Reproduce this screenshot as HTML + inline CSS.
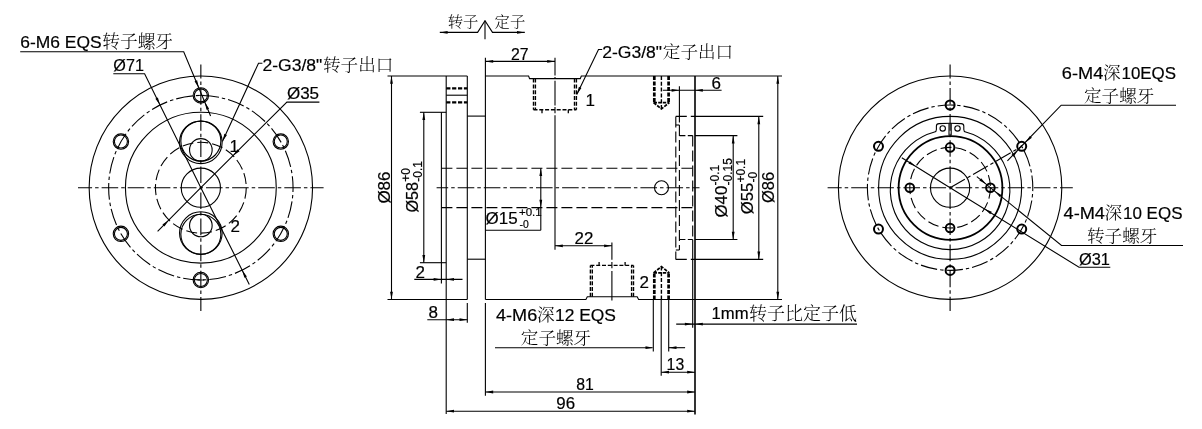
<!DOCTYPE html>
<html lang="zh"><head><meta charset="utf-8"><title>Rotary union drawing</title>
<style>
html,body{margin:0;padding:0;background:#fff;}
body{width:1202px;height:429px;overflow:hidden;}
svg{display:block;will-change:transform;}
svg *{fill:none;stroke:#000;stroke-width:1.1;}
.ar{fill:#000;stroke:none;}
.ch{stroke-dasharray:16.6 3 3.5 3;stroke-dashoffset:2.5;}
.chs{stroke-dasharray:16.6 3 3.5 3;stroke-dashoffset:5;}
.chc{stroke-dasharray:17 3 3.5 3;}
.ch2{stroke-dasharray:22 3.5 4 3.5;}
.hd{stroke-dasharray:11 4;}
.hd3{stroke-dasharray:6 2.4;}
.hk{stroke-width:1.4;stroke-dasharray:4 1.8;}
.hw{stroke-width:2.7;stroke-dasharray:4 1.5;}
.hc{stroke-width:1.7;stroke-dasharray:3.4 1.2;}
.hf{stroke-width:2.1;stroke-dasharray:4.2 1.7;}
.hk2{stroke-width:1.3;}
.tk{stroke-width:1.8;}
.tk3{stroke-width:1.6;}
.tk2{stroke-width:2.0;}
.th{stroke-width:0.9;}
.tm{stroke-width:1.1;}
text{fill:#000 !important;stroke:none;}
.t{font-family:"Liberation Sans",sans-serif;stroke:#000;stroke-width:0.2;}
.c{font-family:"Liberation Serif","Noto Serif CJK SC",serif;font-weight:300;stroke:none;}
</style></head><body>
<svg width="1202" height="429" viewBox="0 0 1202 429">
<line x1="78" y1="187.7" x2="323.6" y2="187.7" class='ch'/>
<line x1="200.85" y1="64.5" x2="200.85" y2="310.9" class='ch'/>
<circle cx="200.85" cy="187.7" r="111.7"/>
<circle cx="200.85" cy="187.7" r="92.2" style="stroke-dasharray:16.9 3 3.43 3;stroke-dashoffset:12.5"/>
<circle cx="200.85" cy="187.7" r="75.4"/>
<circle cx="200.85" cy="187.7" r="45.4" class='hd'/>
<circle cx="200.85" cy="187.7" r="19.6"/>
<circle cx="200.85" cy="142.3" r="21.3"/>
<circle cx="200.85" cy="141.1" r="20"/>
<circle cx="200.85" cy="149.9" r="11.3"/>
<circle cx="200.85" cy="233.1" r="21.3"/>
<circle cx="200.85" cy="234.3" r="20"/>
<circle cx="200.85" cy="225.5" r="11.3"/>
<circle cx="200.85" cy="95.4" r="7.7" class='tm'/>
<circle cx="200.85" cy="95.4" r="6.5" class='tm'/>
<line x1="197.45" y1="95.4" x2="204.25" y2="95.4" class='th'/>
<circle cx="120.92" cy="141.55" r="7.7" class='tm'/>
<circle cx="120.92" cy="141.55" r="6.5" class='tm'/>
<circle cx="120.92" cy="233.85" r="7.7" class='tm'/>
<circle cx="120.92" cy="233.85" r="6.5" class='tm'/>
<circle cx="200.85" cy="280" r="7.7" class='tm'/>
<circle cx="200.85" cy="280" r="6.5" class='tm'/>
<line x1="197.45" y1="280" x2="204.25" y2="280" class='th'/>
<circle cx="280.78" cy="233.85" r="7.7" class='tm'/>
<circle cx="280.78" cy="233.85" r="6.5" class='tm'/>
<circle cx="280.78" cy="141.55" r="7.7" class='tm'/>
<circle cx="280.78" cy="141.55" r="6.5" class='tm'/>
<text x="20.2" y="47.5" font-size="17" class="t" textLength="81.4" lengthAdjust="spacingAndGlyphs">6-M6 EQS</text>
<text x="102.3" y="47.8" font-size="17.7" class="c">转子螺牙</text>
<polyline points="20.2,51.7 183.7,51.7 210.6,116"/>
<polygon class="ar" points="198.84,87.89 194.54,81.24 197.12,80.16"/>
<polygon class="ar" points="204.79,102.1 209.09,108.76 206.5,109.84"/>
<text x="113.3" y="71.1" font-size="17" class="t" textLength="30.6" lengthAdjust="spacingAndGlyphs">Ø71</text>
<polyline points="113.3,73.7 144.6,73.7 200.85,187.7 249.3,284.4"/>
<polygon class="ar" points="160.05,105.02 155.35,98.64 157.86,97.4"/>
<polygon class="ar" points="242.15,270.13 246.9,276.48 244.39,277.73"/>
<text x="286.9" y="99.4" font-size="17" class="t" textLength="32.2" lengthAdjust="spacingAndGlyphs">Ø35</text>
<polyline points="319.4,102.1 286.9,102.1 200.85,187.7 157.6,231.4"/>
<polygon class="ar" points="233.04,155.68 237.58,149.19 239.55,151.17"/>
<polygon class="ar" points="168.91,219.97 164.42,226.5 162.43,224.53"/>
<text x="262.4" y="71" font-size="17" class="t" textLength="59.9" lengthAdjust="spacingAndGlyphs">2-G3/8"</text>
<text x="323" y="71.3" font-size="17.6" class="c">转子出口</text>
<polyline points="262.4,63.2 258.5,63.2 222.4,141.5"/>
<polygon class="ar" points="222.4,141.5 224.39,133.83 226.94,135"/>
<text x="229.6" y="152.3" font-size="17" class="t">1</text>
<text x="230.6" y="231.6" font-size="17" class="t">2</text>
<line x1="387.5" y1="76" x2="467.3" y2="76"/>
<line x1="387.5" y1="299.5" x2="467.3" y2="299.5"/>
<line x1="391.5" y1="76" x2="391.5" y2="299.5"/>
<polygon class="ar" points="391.5,76 392.9,83.8 390.1,83.8"/>
<polygon class="ar" points="391.5,299.5 390.1,291.7 392.9,291.7"/>
<text x="389.8" y="203.6" font-size="17" class="t" transform="rotate(-90 389.8 203.6)" textLength="32.1" lengthAdjust="spacingAndGlyphs">Ø86</text>
<line x1="419.9" y1="112.3" x2="446.2" y2="112.3"/>
<line x1="419.9" y1="262.7" x2="446.2" y2="262.7"/>
<line x1="423.8" y1="112.3" x2="423.8" y2="262.7"/>
<polygon class="ar" points="423.8,112.3 425.2,120.1 422.4,120.1"/>
<polygon class="ar" points="423.8,262.7 422.4,254.9 425.2,254.9"/>
<text x="417.8" y="212.5" font-size="17" class="t" transform="rotate(-90 417.8 212.5)" textLength="30.6" lengthAdjust="spacingAndGlyphs">Ø58</text>
<text x="410.2" y="181.7" font-size="12" class="t" transform="rotate(-90 410.2 181.7)">+0</text>
<text x="422" y="181.7" font-size="12" class="t" transform="rotate(-90 422 181.7)">-0.1</text>
<line x1="441.4" y1="112.3" x2="441.4" y2="283.6"/>
<line x1="446.2" y1="76" x2="446.2" y2="414"/>
<line x1="467.3" y1="76" x2="467.3" y2="299.5"/>
<line x1="467.3" y1="303" x2="467.3" y2="322.8"/>
<line x1="446.2" y1="88.4" x2="467.3" y2="88.4" class='hf'/>
<line x1="446.2" y1="95.2" x2="467.3" y2="95.2"/>
<line x1="446.2" y1="102.4" x2="467.3" y2="102.4" class='hf'/>
<line x1="467.3" y1="116.1" x2="485.4" y2="116.1"/>
<line x1="467.3" y1="259.2" x2="485.4" y2="259.2"/>
<line x1="485.4" y1="57.8" x2="485.4" y2="299.5"/>
<line x1="485.4" y1="303" x2="485.4" y2="395.7"/>
<polyline points="485.4,76 528.6,76 529.6,78.6 580.3,78.6 581.3,76 695,76"/>
<line x1="695" y1="76" x2="742" y2="76"/>
<polyline points="485.4,299.5 585.9,299.5 587.3,296.8 637.2,296.8 638.6,299.5 695,299.5"/>
<line x1="695" y1="299.5" x2="782" y2="299.5"/>
<line x1="742" y1="76" x2="782" y2="76"/>
<line x1="695" y1="76" x2="695" y2="414.5" class='tk3'/>
<line x1="692.7" y1="239.5" x2="692.7" y2="327.7"/>
<line x1="441.4" y1="168.2" x2="692.7" y2="168.2" class='hd'/>
<line x1="441.4" y1="207.6" x2="692.7" y2="207.6" class='hd'/>
<line x1="436.6" y1="187.75" x2="699.5" y2="187.75" class='chs'/>
<line x1="540.8" y1="168.2" x2="540.8" y2="230.2"/>
<line x1="485.4" y1="230.2" x2="540.8" y2="230.2"/>
<polygon class="ar" points="540.8,168.2 542.2,176 539.4,176"/>
<polygon class="ar" points="540.8,207.6 539.4,199.8 542.2,199.8"/>
<text x="485.6" y="224.4" font-size="17" class="t" textLength="32.1" lengthAdjust="spacingAndGlyphs">Ø15</text>
<text x="519" y="216" font-size="11.5" class="t">+0.1</text>
<text x="519.6" y="228" font-size="10.4" class="t">-0</text>
<line x1="555" y1="57.8" x2="555" y2="75.5"/>
<line x1="555" y1="76.9" x2="555" y2="79.1"/>
<line x1="555" y1="80.7" x2="555" y2="105.6"/>
<line x1="555" y1="107" x2="555" y2="113.3"/>
<line x1="555" y1="115.3" x2="555" y2="249.8"/>
<line x1="533.5" y1="78.6" x2="533.5" y2="109.8" class='hk'/>
<line x1="535.4" y1="78.6" x2="535.4" y2="109.8" class='hk'/>
<line x1="574.5" y1="78.6" x2="574.5" y2="109.8" class='hk'/>
<line x1="576.4" y1="78.6" x2="576.4" y2="109.8" class='hk'/>
<line x1="533.5" y1="109.8" x2="576.4" y2="109.8" class='hk'/>
<line x1="542" y1="109.8" x2="542" y2="113.3" class='hk2'/>
<line x1="568.3" y1="109.8" x2="568.3" y2="113.3" class='hk2'/>
<line x1="485.4" y1="61.4" x2="555" y2="61.4"/>
<polygon class="ar" points="485.4,61.4 493.2,60 493.2,62.8"/>
<polygon class="ar" points="555,61.4 547.2,62.8 547.2,60"/>
<text x="511" y="59.8" font-size="17" class="t" textLength="17.6" lengthAdjust="spacingAndGlyphs">27</text>
<line x1="611.9" y1="242.4" x2="611.9" y2="259.8"/>
<line x1="611.9" y1="261.9" x2="611.9" y2="268.2"/>
<line x1="611.9" y1="271" x2="611.9" y2="300.4"/>
<line x1="590.4" y1="296.8" x2="590.4" y2="265.4" class='hk'/>
<line x1="592.3" y1="296.8" x2="592.3" y2="265.4" class='hk'/>
<line x1="631.6" y1="296.8" x2="631.6" y2="265.4" class='hk'/>
<line x1="633.5" y1="296.8" x2="633.5" y2="265.4" class='hk'/>
<line x1="590.4" y1="265.4" x2="633.5" y2="265.4" class='hk'/>
<line x1="599.1" y1="265.4" x2="599.1" y2="261.9" class='hk2'/>
<line x1="625.1" y1="265.4" x2="625.1" y2="261.9" class='hk2'/>
<line x1="555" y1="245.8" x2="611.9" y2="245.8"/>
<polygon class="ar" points="555,245.8 562.8,244.4 562.8,247.2"/>
<polygon class="ar" points="611.9,245.8 604.1,247.2 604.1,244.4"/>
<text x="574.5" y="244.4" font-size="17" class="t" textLength="18.8" lengthAdjust="spacingAndGlyphs">22</text>
<text x="639.4" y="287.9" font-size="17" class="t">2</text>
<text x="585.6" y="106.3" font-size="17" class="t">1</text>
<text x="602.2" y="57.7" font-size="17" class="t" textLength="59.9" lengthAdjust="spacingAndGlyphs">2-G3/8"</text>
<text x="662.8" y="58" font-size="17.6" class="c">定子出口</text>
<polyline points="602.2,49.5 598.5,49.5 576.8,94.5"/>
<polygon class="ar" points="576.8,94.5 578.93,86.87 581.45,88.08"/>
<line x1="654.3" y1="76" x2="654.3" y2="102.6" class='hw'/>
<line x1="668.6" y1="76" x2="668.6" y2="102.6" class='hw'/>
<line x1="661.4" y1="76" x2="661.4" y2="109" class='hk'/>
<polyline points="653.6,102.6 661.4,109 669.3,102.6" class="hc"/>
<line x1="653.6" y1="102.6" x2="669.3" y2="102.6" class='hc'/>
<line x1="654.3" y1="299.5" x2="654.3" y2="272.9" class='hw'/>
<line x1="668.6" y1="299.5" x2="668.6" y2="272.9" class='hw'/>
<line x1="661.4" y1="299.5" x2="661.4" y2="266.5" class='hk'/>
<polyline points="653.6,272.9 661.4,266.5 669.3,272.9" class="hc"/>
<line x1="653.6" y1="272.9" x2="669.3" y2="272.9" class='hc'/>
<line x1="679.4" y1="86.2" x2="679.4" y2="116.4"/>
<line x1="679.4" y1="116.4" x2="679.4" y2="122.6"/>
<line x1="662.8" y1="90.3" x2="721.6" y2="90.3"/>
<polygon class="ar" points="679.4,90.3 671.6,91.7 671.6,88.9"/>
<polygon class="ar" points="695,90.3 702.8,88.9 702.8,91.7"/>
<text x="711.5" y="89.2" font-size="17" class="t">6</text>
<line x1="675.8" y1="116.4" x2="675.8" y2="259.4" class='hd'/>
<line x1="675.8" y1="116.4" x2="695" y2="116.4" class='hd'/>
<line x1="675.8" y1="259.4" x2="695" y2="259.4" class='hd'/>
<line x1="679.4" y1="125" x2="679.4" y2="250" class='hd'/>
<line x1="675.8" y1="125" x2="679.4" y2="125"/>
<line x1="675.8" y1="250" x2="679.4" y2="250"/>
<line x1="679.4" y1="135.6" x2="692.7" y2="135.6" class='hd3'/>
<line x1="679.4" y1="239.5" x2="692.7" y2="239.5" class='hd3'/>
<line x1="692.7" y1="135.6" x2="692.7" y2="239.5" class='hd'/>
<circle cx="661.5" cy="187.75" r="7"/>
<line x1="695" y1="116.4" x2="763.2" y2="116.4"/>
<line x1="695" y1="259.4" x2="763.2" y2="259.4"/>
<line x1="758.8" y1="116.4" x2="758.8" y2="259.4"/>
<polygon class="ar" points="758.8,116.4 760.2,124.2 757.4,124.2"/>
<polygon class="ar" points="758.8,259.4 757.4,251.6 760.2,251.6"/>
<line x1="695" y1="135.6" x2="737.4" y2="135.6"/>
<line x1="695" y1="239.5" x2="737.4" y2="239.5"/>
<line x1="733.2" y1="135.6" x2="733.2" y2="239.5"/>
<polygon class="ar" points="733.2,135.6 734.6,143.4 731.8,143.4"/>
<polygon class="ar" points="733.2,239.5 731.8,231.7 734.6,231.7"/>
<line x1="777.8" y1="76" x2="777.8" y2="299.5"/>
<polygon class="ar" points="777.8,76 779.2,83.8 776.4,83.8"/>
<polygon class="ar" points="777.8,299.5 776.4,291.7 779.2,291.7"/>
<text x="727.3" y="217.5" font-size="17" class="t" transform="rotate(-90 727.3 217.5)" textLength="31.8" lengthAdjust="spacingAndGlyphs">Ø40</text>
<text x="718.8" y="185.5" font-size="12" class="t" transform="rotate(-90 718.8 185.5)">-0.1</text>
<text x="732" y="185.5" font-size="12" class="t" transform="rotate(-90 732 185.5)">-0.15</text>
<text x="752.9" y="214.2" font-size="17" class="t" transform="rotate(-90 752.9 214.2)" textLength="31.5" lengthAdjust="spacingAndGlyphs">Ø55</text>
<text x="745.2" y="182.6" font-size="12" class="t" transform="rotate(-90 745.2 182.6)">+0.1</text>
<text x="757.1" y="182.6" font-size="12" class="t" transform="rotate(-90 757.1 182.6)">-0</text>
<text x="773.9" y="203" font-size="17" class="t" transform="rotate(-90 773.9 203)" textLength="31.2" lengthAdjust="spacingAndGlyphs">Ø86</text>
<line x1="414.3" y1="279.4" x2="462.5" y2="279.4"/>
<polygon class="ar" points="441.4,279.4 433.6,280.8 433.6,278"/>
<polygon class="ar" points="446.2,279.4 454,278 454,280.8"/>
<text x="415.5" y="278.2" font-size="17" class="t">2</text>
<line x1="427.3" y1="319.7" x2="467.3" y2="319.7"/>
<polygon class="ar" points="446.2,319.7 454,318.3 454,321.1"/>
<polygon class="ar" points="467.3,319.7 459.5,321.1 459.5,318.3"/>
<text x="428.6" y="317.6" font-size="17" class="t">8</text>
<text x="496" y="320.5" font-size="17" class="t" textLength="41.2" lengthAdjust="spacingAndGlyphs">4-M6</text>
<text x="537" y="321" font-size="17.6" class="c">深</text>
<text x="555" y="320.5" font-size="17" class="t" textLength="61" lengthAdjust="spacingAndGlyphs">12 EQS</text>
<text x="520.8" y="344.2" font-size="17.6" class="c">定子螺牙</text>
<line x1="495" y1="347.7" x2="652.5" y2="347.7"/>
<polygon class="ar" points="653.3,347.7 645.5,349.1 645.5,346.3"/>
<line x1="653.3" y1="299.5" x2="653.3" y2="351.4"/>
<line x1="661.2" y1="299.5" x2="661.2" y2="375.8"/>
<line x1="668.7" y1="299.5" x2="668.7" y2="351.4"/>
<line x1="668.7" y1="347.7" x2="685.1" y2="347.7"/>
<polygon class="ar" points="668.7,347.7 676.5,346.3 676.5,349.1"/>
<line x1="661.2" y1="372.2" x2="695" y2="372.2"/>
<polygon class="ar" points="661.2,372.2 669,370.8 669,373.6"/>
<polygon class="ar" points="695,372.2 687.2,373.6 687.2,370.8"/>
<text x="666.6" y="370.2" font-size="17" class="t" textLength="17.6" lengthAdjust="spacingAndGlyphs">13</text>
<line x1="676.2" y1="324.1" x2="857" y2="324.1"/>
<polygon class="ar" points="692.7,324.1 684.9,325.5 684.9,322.7"/>
<polygon class="ar" points="695,324.1 702.8,322.7 702.8,325.5"/>
<text x="711.5" y="319.4" font-size="17" class="t" textLength="37" lengthAdjust="spacingAndGlyphs">1mm</text>
<text x="749" y="319.8" font-size="18" class="c">转子比定子低</text>
<line x1="485.4" y1="392" x2="695" y2="392"/>
<polygon class="ar" points="485.4,392 493.2,390.6 493.2,393.4"/>
<polygon class="ar" points="695,392 687.2,393.4 687.2,390.6"/>
<text x="576.2" y="389.8" font-size="17" class="t" textLength="17.6" lengthAdjust="spacingAndGlyphs">81</text>
<line x1="446.2" y1="411.2" x2="695" y2="411.2"/>
<polygon class="ar" points="446.2,411.2 454,409.8 454,412.6"/>
<polygon class="ar" points="695,411.2 687.2,412.6 687.2,409.8"/>
<text x="556.3" y="408.8" font-size="17" class="t" textLength="18.8" lengthAdjust="spacingAndGlyphs">96</text>
<polyline points="439.8,32.4 477.6,32.4 485,20.7 492.5,32.4 524.8,32.4"/>
<line x1="485" y1="20.7" x2="485" y2="39.2"/>
<polygon class="ar" points="439.8,32.4 447.6,31 447.6,33.8"/>
<polygon class="ar" points="524.8,32.4 517,33.8 517,31"/>
<text x="447.8" y="26.6" font-size="15.3" class="c">转子</text>
<text x="494.6" y="26.6" font-size="15.3" class="c">定子</text>
<line x1="827.6" y1="187.7" x2="1072.8" y2="187.7" class='ch'/>
<line x1="950.1" y1="64.4" x2="950.1" y2="310.9" class='ch'/>
<circle cx="950.1" cy="187.7" r="111.7"/>
<circle cx="950.1" cy="187.7" r="82.7" style="stroke-dasharray:16.6 3 3.38 3;stroke-dashoffset:13.1"/>
<circle cx="950.1" cy="187.9" r="71.5"/>
<circle cx="950.5" cy="188" r="51.9" class='tk'/>
<circle cx="950.1" cy="187.7" r="40.3" class='hd'/>
<circle cx="950.1" cy="187.7" r="19.6"/>
<path d="M965.7,132.07 A59.8,59.8 0 1 1 934.5,132.07 Q936.4,131.67 936.4,129.47 L936.4,126 Q936.4,123.8 939.1,123.6 Q950.1,122.8 961.1,123.6 Q963.8,123.8 963.8,126 L963.8,129.47 Q963.8,131.67 965.7,132.07 Z"/>
<line x1="949" y1="123.3" x2="949" y2="135.6"/>
<line x1="951.2" y1="123.3" x2="951.2" y2="135.6"/>
<circle cx="942.7" cy="128.4" r="2.7"/>
<circle cx="957.5" cy="128.4" r="2.7"/>
<circle cx="950.1" cy="105" r="4.5" class='tk2'/>
<circle cx="878.48" cy="146.35" r="4.5" class='tk2'/>
<circle cx="878.48" cy="229.05" r="4.5" class='tk2'/>
<circle cx="950.1" cy="270.4" r="4.5" class='tk2'/>
<circle cx="1021.72" cy="229.05" r="4.5" class='tk2'/>
<circle cx="1021.72" cy="146.35" r="4.5" class='tk2'/>
<circle cx="990.4" cy="187.7" r="4.3" class='tk2'/>
<circle cx="950.1" cy="147.4" r="4.3" class='tk2'/>
<circle cx="909.8" cy="187.7" r="4.3" class='tk2'/>
<circle cx="950.1" cy="228" r="4.3" class='tk2'/>
<text x="1079" y="265" font-size="17" class="t" textLength="31" lengthAdjust="spacingAndGlyphs">Ø31</text>
<polyline points="1110.3,267.2 1079,267.2 950.1,187.7 901.8,157.8"/>
<polygon class="ar" points="984.4,208.86 991.77,211.76 990.3,214.14"/>
<polygon class="ar" points="915.83,166.49 908.47,163.57 909.94,161.19"/>
<line x1="950.1" y1="187.7" x2="1021.72" y2="146.35" class='chc'/>
<polyline points="1176,105.2 1061.2,105.2 1007.4,160.8"/>
<polygon class="ar" points="1025.48,142.47 1029.89,135.89 1031.91,137.84"/>
<polygon class="ar" points="1017.97,150.23 1013.55,156.81 1011.54,154.86"/>
<text x="1061.8" y="78.5" font-size="17" class="t" textLength="41.5" lengthAdjust="spacingAndGlyphs">6-M4</text>
<text x="1103" y="79" font-size="17.6" class="c">深</text>
<text x="1121.5" y="78.5" font-size="17" class="t" textLength="54.5" lengthAdjust="spacingAndGlyphs">10EQS</text>
<text x="1084" y="101.6" font-size="17.6" class="c">定子螺牙</text>
<text x="1063.5" y="218.5" font-size="17" class="t" textLength="41.5" lengthAdjust="spacingAndGlyphs">4-M4</text>
<text x="1104.5" y="219" font-size="17.6" class="c">深</text>
<text x="1123" y="218.5" font-size="17" class="t" textLength="59.5" lengthAdjust="spacingAndGlyphs">10 EQS</text>
<text x="1087" y="242" font-size="17.6" class="c">转子螺牙</text>
<polyline points="1183,245.5 1061.5,245.5 976.82,176.66"/>
<polygon class="ar" points="994.51,191.04 1001.45,194.88 999.68,197.05"/>
<polygon class="ar" points="986.29,184.36 979.35,180.52 981.12,178.35"/>
</svg>
</body></html>
